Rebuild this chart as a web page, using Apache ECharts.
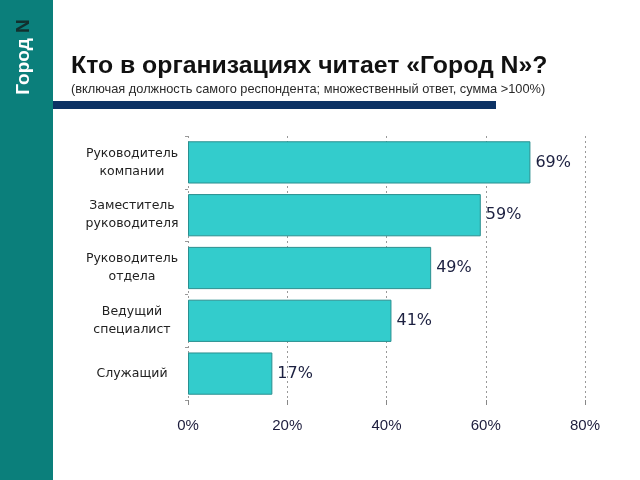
<!DOCTYPE html>
<html><head><meta charset="utf-8">
<script src="https://cdn.jsdelivr.net/npm/echarts@6/dist/echarts.min.js"></script>
<style>html,body{margin:0;padding:0;background:#fff}#c{width:640px;height:480px}</style>
</head><body><div id="c"></div>
<script>
var categories = ['Руководитель\nкомпании', 'Заместитель\nруководителя', 'Руководитель\nотдела', 'Ведущий\nспециалист', 'Служащий'];
var values = [69, 59, 49, 41, 17];
var xTicks = [0, 20, 40, 60, 80];

var chart = echarts.init(document.getElementById('c'));
chart.setOption({
  backgroundColor: '#fff',
  animation: false,
  title: {
    text: 'Кто в организациях читает «Город N»?',
    subtext: '(включая должность самого респондента; множественный ответ, сумма >100%)',
    left: 66, top: 49,
    itemGap: 4,
    textStyle: {fontFamily: 'Liberation Sans, Arial', fontWeight: 'bold', fontSize: 24.8, color: '#111'},
    subtextStyle: {fontFamily: 'Liberation Sans, Arial', fontSize: 12.8, color: '#2a2a2a'}
  },
  graphic: [
    {type: 'rect', shape: {x: 0, y: 0, width: 53, height: 480}, style: {fill: '#0b7f7b'}, z: 0},
    {type: 'rect', shape: {x: 53, y: 101, width: 443, height: 8}, style: {fill: '#0c3264'}},
    {type: 'text', x: 24, y: 57, rotation: Math.PI / 2,
      style: {text: '{w|Город }{n|N}', align: 'center', verticalAlign: 'middle',
        rich: {w: {fontFamily: 'Liberation Sans, Arial', fontWeight: 'bold', fontSize: 19, fill: '#fff'},
               n: {fontFamily: 'Liberation Sans, Arial', fontWeight: 'bold', fontSize: 19, fill: '#12302e'}}}}
  ],
  grid: {left: 188, right: 55, top: 136, bottom: 80, containLabel: false},
  xAxis: {
    type: 'value', min: 0, max: 80, interval: 20,
    axisLine: {show: false},
    axisTick: {show: true, length: 5, lineStyle: {color: '#888'}},
    axisLabel: {formatter: function (v) { return xTicks.indexOf(v) >= 0 ? v + '%' : ''; }, margin: 18,
      fontFamily: 'Liberation Sans, Arial', fontSize: 15, color: '#1c1c3c'},
    splitLine: {show: true, lineStyle: {type: [2, 3], color: '#999', width: 1}}
  },
  yAxis: {
    type: 'category', data: categories, inverse: true,
    axisLine: {show: false},
    axisTick: {show: true, length: 3, lineStyle: {color: '#999'}},
    axisLabel: {margin: 56, align: 'center',
      fontFamily: 'DejaVu Sans, Verdana', fontSize: 12.5, lineHeight: 18, color: '#222'}
  },
  series: [{
    type: 'bar', data: values, barWidth: '80%',
    itemStyle: {color: '#33cccc', borderColor: '#2a8f8f', borderWidth: 1},
    label: {show: true, position: 'right', distance: 5, formatter: '{c}%',
      fontFamily: 'DejaVu Sans, Verdana', fontSize: 16, color: '#1c2040'}
  }]
});
</script></body></html>
